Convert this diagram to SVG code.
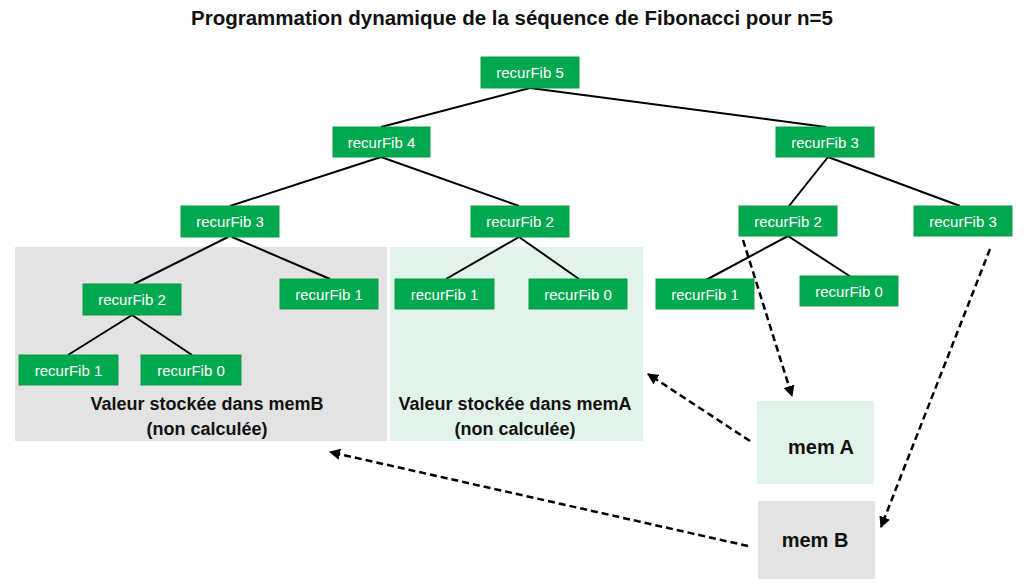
<svg xmlns="http://www.w3.org/2000/svg" width="1024" height="586" viewBox="0 0 1024 586">
<defs>
<marker id="ah" viewBox="0 0 10 10" refX="9" refY="5" markerWidth="4.5" markerHeight="4.5" orient="auto" markerUnits="strokeWidth">
<path d="M0,0 L10,5 L0,10 z" fill="#000"/>
</marker>
<style>
.n{fill:#00A84F;stroke:#0E9A4A;stroke-width:1}
.nt{font-family:"Liberation Sans",Arial,sans-serif;font-size:15px;fill:#fff;text-anchor:middle;dominant-baseline:central}
.b{font-family:"Liberation Sans",Arial,sans-serif;font-weight:bold;fill:#111;text-anchor:middle}
.t{stroke:#000;stroke-width:2;fill:none}
.d{stroke:#000;stroke-width:2.5;stroke-dasharray:7,4;fill:none;marker-end:url(#ah)}
</style>
</defs>
<rect width="1024" height="586" fill="#fff"/>
<text class="b" x="512" y="25" font-size="20.5">Programmation dynamique de la séquence de Fibonacci pour n=5</text>

<g id="regionB"><rect x="15" y="247" width="372" height="194" fill="#E3E3E3"/>
<text class="b" x="207" y="410" font-size="18">Valeur stockée dans memB</text>
<text class="b" x="207" y="435" font-size="18">(non calculée)</text></g>
<g id="regionA"><rect x="390" y="247" width="253" height="194" fill="#E2F4EA"/>
<text class="b" x="515" y="410" font-size="18">Valeur stockée dans memA</text>
<text class="b" x="515" y="435" font-size="18">(non calculée)</text></g>

<g id="edges">
<line class="t" x1="530" y1="88" x2="381" y2="127"/>
<line class="t" x1="530" y1="88" x2="826" y2="127"/>
<line class="t" x1="381" y1="157" x2="230" y2="206"/>
<line class="t" x1="381" y1="157" x2="519" y2="206"/>
<line class="t" x1="828" y1="157" x2="789" y2="206"/>
<line class="t" x1="828" y1="157" x2="960" y2="206"/>
<line class="t" x1="228" y1="237" x2="134" y2="284"/>
<line class="t" x1="232" y1="237" x2="330" y2="279"/>
<line class="t" x1="519" y1="237" x2="446" y2="279"/>
<line class="t" x1="519" y1="237" x2="579" y2="279"/>
<line class="t" x1="132" y1="315" x2="68" y2="355"/>
<line class="t" x1="132" y1="315" x2="192" y2="355"/>
<line class="t" x1="788" y1="236" x2="706" y2="280"/>
<line class="t" x1="788" y1="236" x2="851" y2="277"/>
</g>

<g id="n5"><rect class="n" x="481" y="57" width="98" height="31"/><text class="nt" x="530" y="72.5">recurFib 5</text></g>
<g id="n4"><rect class="n" x="333" y="127" width="97" height="30"/><text class="nt" x="381.5" y="142">recurFib 4</text></g>
<g id="n3r"><rect class="n" x="776" y="127" width="98" height="30"/><text class="nt" x="825" y="142">recurFib 3</text></g>
<g id="n3l"><rect class="n" x="181" y="206" width="98" height="31"/><text class="nt" x="230" y="221.5">recurFib 3</text></g>
<g id="n2m"><rect class="n" x="471" y="206" width="98" height="31"/><text class="nt" x="520" y="221.5">recurFib 2</text></g>
<g id="n2r"><rect class="n" x="739" y="206" width="98" height="30"/><text class="nt" x="788" y="221">recurFib 2</text></g>
<g id="n3rr"><rect class="n" x="914" y="206" width="98" height="30"/><text class="nt" x="963" y="221">recurFib 3</text></g>
<g id="n2g"><rect class="n" x="83" y="284" width="98" height="31"/><text class="nt" x="132" y="299.5">recurFib 2</text></g>
<g id="n1g"><rect class="n" x="280" y="279" width="98" height="30"/><text class="nt" x="329" y="294">recurFib 1</text></g>
<g id="n1a"><rect class="n" x="395" y="279" width="99" height="30"/><text class="nt" x="444.5" y="294">recurFib 1</text></g>
<g id="n0a"><rect class="n" x="529" y="279" width="98" height="30"/><text class="nt" x="578" y="294">recurFib 0</text></g>
<g id="n1b"><rect class="n" x="19" y="355" width="99" height="30"/><text class="nt" x="68.5" y="370">recurFib 1</text></g>
<g id="n0b"><rect class="n" x="141" y="355" width="100" height="30"/><text class="nt" x="191" y="370">recurFib 0</text></g>
<g id="n1r"><rect class="n" x="656" y="279" width="98" height="30"/><text class="nt" x="705" y="294">recurFib 1</text></g>
<g id="n0r"><rect class="n" x="800" y="276" width="98" height="30"/><text class="nt" x="849" y="291">recurFib 0</text></g>

<g id="memA"><rect x="757" y="401" width="117" height="83" fill="#E2F4EA"/><text class="b" x="821" y="454" font-size="20">mem A</text></g>
<g id="memB"><rect x="758" y="501" width="117" height="78" fill="#E3E3E3"/><text class="b" x="815" y="547" font-size="20">mem B</text></g>

<g id="arrows">
<line class="d" x1="743" y1="240" x2="792" y2="396"/>
<line class="d" x1="750" y1="441" x2="648" y2="374"/>
<line class="d" x1="990" y1="249" x2="881" y2="527"/>
<line class="d" x1="748" y1="546" x2="330" y2="452"/>
</g>
</svg>
